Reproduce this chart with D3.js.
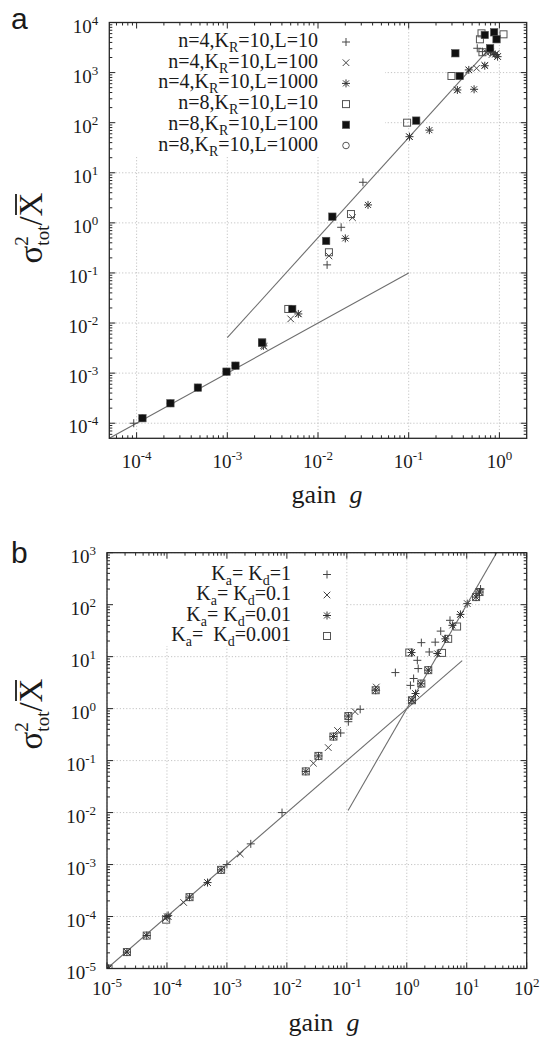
<!DOCTYPE html>
<html>
<head>
<meta charset="utf-8">
<script src="https://cdn.jsdelivr.net/npm/d3@7"></script>
<style>
  body { margin: 0; background: #fff; }
  svg text { font-family: "Liberation Serif", "Times New Roman", serif; fill: #1a1a1a; }
</style>
</head>
<body>
<svg id="fig" width="540" height="1043"></svg>
<script>
// ---- panel a data: [gain g, sigma^2_tot / mean X] ----
const aN4L10 = [[9.3e-5, 1.0e-4], [0.0126, 0.145], [0.018, 0.816], [0.0313, 6.46],
  [0.57, 3060], [0.65, 2620], [0.75, 2700], [0.86, 2500]];
const aN4L100 = [[2.55e-3, 3.4e-3], [5.0e-3, 0.0121], [6.07e-3, 0.0152], [0.0132, 0.219],
  [0.024, 1.27], [0.102, 52.5], [0.344, 450], [0.46, 1130], [0.56, 1220], [0.69, 1400],
  [0.72, 2500], [0.83, 2300], [0.92, 2400], [0.955, 2100]];
const aN4L1000 = [[2.5e-3, 3.5e-3], [6.07e-3, 0.0152], [0.02, 0.49], [0.0356, 2.28],
  [0.102, 52.5], [0.169, 71], [0.344, 450], [0.46, 1130], [0.526, 464], [0.69, 1370],
  [0.8, 2600], [0.9, 2300], [0.955, 2080]];
const aN8L10 = [[2.42e-3, 4.1e-3], [4.7e-3, 0.0191], [0.0132, 0.259], [0.0231, 1.5],
  [0.096, 100], [0.296, 855], [0.61, 4620], [0.635, 6080], [0.65, 2550], [1.11, 5810]];
const aN8L100 = [[1.16e-4, 1.26e-4], [2.36e-4, 2.5e-4], [4.74e-4, 5.14e-4], [9.8e-4, 1.07e-3],
  [1.23e-3, 1.41e-3], [2.42e-3, 4.06e-3], [5.2e-3, 0.0191], [0.0123, 0.435], [0.0144, 1.33],
  [0.121, 110], [0.327, 2430], [0.365, 855], [0.69, 5630], [0.79, 3060], [0.875, 6370], [0.93, 4630]];
const aN8L1000 = [[1.16e-4, 1.26e-4], [2.36e-4, 2.5e-4], [4.74e-4, 5.14e-4], [9.8e-4, 1.07e-3],
  [1.23e-3, 1.41e-3]];
const aFitLinear = [[5e-5, 5e-5], [0.1, 0.1]];
const aFitSquare = [[1e-3, 5.1e-3], [0.74, 2740]];

// ---- panel b data ----
const bKd1 = [[1.05e-4, 1.05e-4], [1e-3, 1e-3], [2.5e-3, 2.5e-3], [8.3e-3, 0.01], [0.079, 0.34],
  [0.106, 0.56], [0.167, 0.97], [0.645, 4.94], [1.15, 2.8], [1.3, 3.8], [1.55, 5.9], [1.5, 8.5],
  [1.75, 18.6], [2.37, 12.3], [2.98, 19], [3.68, 31], [5.26, 50], [10.2, 105], [17, 200]];
const bKd01 = [[1e-5, 1e-5], [2.15e-5, 2.07e-5], [9.5e-5, 9.2e-5], [1.05e-4, 1.0e-4], [1.9e-4, 1.86e-4],
  [4.75e-4, 4.5e-4], [1.67e-3, 1.6e-3], [0.0277, 0.089], [0.049, 0.178], [0.07, 0.38], [0.137, 0.875],
  [0.31, 2.6], [1.2, 12], [1.22, 1.45], [1.4, 1.95], [4.4, 22], [7.84, 65], [10.2, 105], [16.3, 175]];
const bKd001 = [[1.06e-5, 1e-5], [2.15e-5, 2.07e-5], [4.6e-5, 4.3e-5], [1.0e-4, 1.0e-4], [2.38e-4, 2.36e-4],
  [4.75e-4, 4.5e-4], [8e-4, 7.9e-4], [0.0207, 0.062], [0.0336, 0.123], [0.0598, 0.29], [0.106, 0.72],
  [0.303, 2.26], [1.2, 12], [1.22, 1.45], [1.4, 1.95], [1.72, 3.0], [2.28, 5.5], [3.23, 11.5],
  [4.4, 22], [5.77, 40], [7.84, 65], [14.3, 140], [16.3, 175]];
const bKd0001 = [[1.06e-5, 1e-5], [2.15e-5, 2.07e-5], [4.6e-5, 4.3e-5], [9.7e-5, 8.7e-5], [2.38e-4, 2.36e-4],
  [8e-4, 7.9e-4], [0.0207, 0.062], [0.0336, 0.123], [0.0598, 0.29], [0.106, 0.72], [0.303, 2.26],
  [1.1, 12], [1.22, 1.45], [1.75, 3.04], [2.28, 5.5], [3.87, 11.8], [4.9, 22], [6.9, 38],
  [14.3, 140], [16.3, 175]];
const bFitLinear = [[1e-5, 1e-5], [8.4, 8.4]];
const bFitSquare = [[0.105, 0.011], [40, 1600]];

// tick exponents
const aXTicks = [-4, -3, -2, -1, 0];
const aYTicks = [-4, -3, -2, -1, 0, 1, 2, 3, 4];
const bXTicks = [-5, -4, -3, -2, -1, 0, 1, 2];
const bYTicks = [-5, -4, -3, -2, -1, 0, 1, 2, 3];

// legend labels: alternating normal / subscript pieces
const aLegend = [["n=4,K", "R", "=10,L=10"], ["n=4,K", "R", "=10,L=100"], ["n=4,K", "R", "=10,L=1000"],
  ["n=8,K", "R", "=10,L=10"], ["n=8,K", "R", "=10,L=100"], ["n=8,K", "R", "=10,L=1000"]];
const bLegend = [["K", "a", "= K", "d", "=1"], ["K", "a", "= K", "d", "=0.1"],
  ["K", "a", "= K", "d", "=0.01"], ["K", "a", "=  K", "d", "=0.001"]];

const svg = d3.select("#fig");
const ink = "#262626";
const serif = "'Liberation Serif', 'Times New Roman', serif";

// marker shapes
function marker(sel, kind) {
  if (kind === "plus") {
    sel.append("path").attr("d", "M-4,0H4M0,-4V4").attr("stroke", "#444").attr("fill", "none");
  } else if (kind === "cross") {
    sel.append("path").attr("d", "M-3.3,-3.3L3.3,3.3M-3.3,3.3L3.3,-3.3").attr("stroke", "#444").attr("fill", "none");
  } else if (kind === "star") {
    sel.append("path").attr("d", "M-4,0H4M0,-4V4M-3,-3L3,3M-3,3L3,-3").attr("stroke", "#333").attr("fill", "none");
  } else if (kind === "osq") {
    sel.append("rect").attr("x", -3.5).attr("y", -3.5).attr("width", 7).attr("height", 7)
      .attr("fill", "none").attr("stroke", "#555");
  } else if (kind === "fsq") {
    sel.append("rect").attr("x", -3.7).attr("y", -3.7).attr("width", 7.4).attr("height", 7.4)
      .attr("fill", "#111").attr("stroke", "#555").attr("stroke-width", 0.6);
  } else if (kind === "circle") {
    sel.append("circle").attr("r", 3.3).attr("fill", "none").attr("stroke", "#555");
  }
}

function powLabel(sel, e) {
  sel.append("tspan").text("10");
  sel.append("tspan").attr("dy", -8).attr("font-size", 13).text(String(e));
}

function drawPanel(p) {
  const g = svg.append("g");
  const x = d3.scaleLog().domain(p.xDomain).range([p.left, p.right]);
  const y = d3.scaleLog().domain(p.yDomain).range([p.bottom, p.top]);

  // grid
  const grid = g.append("g").attr("stroke", "#b5b5b5").attr("stroke-width", 0.8)
    .attr("stroke-dasharray", "1.2,2");
  p.xTicks.forEach(e => {
    const v = Math.pow(10, e);
    grid.append("line").attr("x1", x(v)).attr("x2", x(v)).attr("y1", p.top).attr("y2", p.bottom);
  });
  p.yTicks.forEach(e => {
    const v = Math.pow(10, e);
    grid.append("line").attr("x1", p.left).attr("x2", p.right).attr("y1", y(v)).attr("y2", y(v));
  });

  // legend box hides the grid
  g.append("rect").attr("x", p.left + 1).attr("y", p.top + 1)
    .attr("width", p.legendBox[0] - p.left - 1).attr("height", p.legendBox[1] - p.top - 1)
    .attr("fill", "#fff");

  // legend
  p.legend.forEach((parts, i) => {
    const by = p.legendY + i * p.legendStep;
    const t = g.append("text").attr("x", p.legendX).attr("y", by).attr("font-family", serif)
      .attr("text-anchor", "end").attr("font-size", 20).style("white-space", "pre");
    parts.forEach((s, j) => {
      const sub = j % 2 === 1;
      t.append("tspan").attr("dy", sub ? 5 : (j > 0 ? -5 : 0))
        .attr("font-size", sub ? 14 : 20).text(s);
    });
    const m = g.append("g").attr("transform", `translate(${p.symX},${by - 5})`);
    marker(m, p.legendSyms[i]);
  });

  // fits and points, clipped to frame
  const clipId = "clip" + p.name;
  svg.append("clipPath").attr("id", clipId).append("rect")
    .attr("x", p.left).attr("y", p.top).attr("width", p.right - p.left).attr("height", p.bottom - p.top);
  const plot = g.append("g").attr("clip-path", `url(#${clipId})`);
  const line = d3.line().x(d => x(d[0])).y(d => y(d[1]));
  p.fits.forEach(f => {
    plot.append("path").attr("d", line(f)).attr("fill", "none")
      .attr("stroke", "#6e6e6e").attr("stroke-width", 1.1);
  });
  p.series.forEach(s => {
    plot.selectAll(null).data(s.pts).enter().append("g")
      .attr("transform", d => `translate(${x(d[0])},${y(d[1])})`)
      .each(function () { marker(d3.select(this), s.sym); });
  });

  // frame
  g.append("rect").attr("x", p.left).attr("y", p.top)
    .attr("width", p.right - p.left).attr("height", p.bottom - p.top)
    .attr("fill", "none").attr("stroke", ink).attr("stroke-width", 1.3);

  // ticks on all four sides, pointing in
  const tk = g.append("g").attr("stroke", ink).attr("stroke-width", 1);
  function minorVals(dom) {
    const out = [];
    const lo = Math.floor(Math.log10(dom[0])), hi = Math.ceil(Math.log10(dom[1]));
    for (let k = lo; k <= hi; k++) for (let m = 2; m <= 9; m++) {
      const v = m * Math.pow(10, k);
      if (v > dom[0] && v < dom[1]) out.push(v);
    }
    return out;
  }
  const xs = p.xTicks.map(e => [Math.pow(10, e), 6]).concat(minorVals(p.xDomain).map(v => [v, 3]));
  const ys = p.yTicks.map(e => [Math.pow(10, e), 6]).concat(minorVals(p.yDomain).map(v => [v, 3]));
  xs.forEach(([v, l]) => {
    tk.append("line").attr("x1", x(v)).attr("x2", x(v)).attr("y1", p.bottom).attr("y2", p.bottom - l);
    tk.append("line").attr("x1", x(v)).attr("x2", x(v)).attr("y1", p.top).attr("y2", p.top + l);
  });
  ys.forEach(([v, l]) => {
    tk.append("line").attr("y1", y(v)).attr("y2", y(v)).attr("x1", p.left).attr("x2", p.left + l);
    tk.append("line").attr("y1", y(v)).attr("y2", y(v)).attr("x1", p.right).attr("x2", p.right - l);
  });

  // tick labels
  p.xTicks.forEach(e => {
    const t = g.append("text").attr("x", x(Math.pow(10, e))).attr("y", p.xLabelY)
      .attr("font-family", serif).attr("text-anchor", "middle").attr("font-size", 19);
    powLabel(t, e);
  });
  p.yTicks.forEach(e => {
    const t = g.append("text").attr("x", p.left - 11).attr("y", y(Math.pow(10, e)) + 10)
      .attr("font-family", serif).attr("text-anchor", "end").attr("font-size", 19);
    powLabel(t, e);
  });

  // x title
  const xt = g.append("text").attr("x", p.xTitle[0]).attr("y", p.xTitle[1]).attr("font-family", serif)
    .attr("text-anchor", "middle").attr("font-size", 26).style("white-space", "pre");
  xt.append("tspan").text("gain  ");
  xt.append("tspan").attr("font-style", "italic").text("g");

  // y title: sigma^2_tot / X-bar
  const yg = g.append("g").attr("transform", `translate(${p.yTitle[0]},${p.yTitle[1]}) rotate(-90)`);
  const yt = yg.append("text").attr("text-anchor", "middle").attr("font-family", serif).attr("font-size", 33);
  yt.append("tspan").text("σ");
  yt.append("tspan").attr("dy", -14).attr("font-size", 19).text("2");
  yt.append("tspan").attr("dx", -9.5).attr("dy", 21).attr("font-size", 19).text("tot");
  yt.append("tspan").attr("dy", -7).text("/X");
  const n = yt.node().getNumberOfChars();
  const s0 = yt.node().getStartPositionOfChar(n - 1), s1 = yt.node().getEndPositionOfChar(n - 1);
  yg.append("line").attr("x1", s0.x + 1.5).attr("x2", s1.x - 1.5).attr("y1", s0.y - 26).attr("y2", s0.y - 26)
    .attr("stroke", "#1a1a1a").attr("stroke-width", 1.8);

  // panel letter
  svg.append("text").attr("x", p.letter[1]).attr("y", p.letter[2])
    .style("font-family", "'Liberation Sans', Arial, sans-serif").attr("font-size", 30).text(p.letter[0]);
}

drawPanel({
  name: "a",
  left: 109.3, right: 526.7, top: 22.5, bottom: 438.3,
  xDomain: [5e-5, 2], yDomain: [5e-5, 1e4],
  xTicks: aXTicks, yTicks: aYTicks,
  legendBox: [385, 157], legend: aLegend,
  legendX: 318, legendY: 47, legendStep: 20.7, symX: 346,
  legendSyms: ["plus", "cross", "star", "osq", "fsq", "circle"],
  fits: [aFitLinear, aFitSquare],
  series: [
    { pts: aN8L1000, sym: "circle" }, { pts: aN8L10, sym: "osq" },
    { pts: aN4L10, sym: "plus" }, { pts: aN4L100, sym: "cross" },
    { pts: aN4L1000, sym: "star" }, { pts: aN8L100, sym: "fsq" }
  ],
  xLabelY: 468, xTitle: [327, 503], yTitle: [42, 228], letter: ["a", 11, 29]
});

drawPanel({
  name: "b",
  left: 107, right: 526.7, top: 552.7, bottom: 968.5,
  xDomain: [1e-5, 1e2], yDomain: [1e-5, 1e3],
  xTicks: bXTicks, yTicks: bYTicks,
  legendBox: [346, 646], legend: bLegend,
  legendX: 291, legendY: 579.5, legendStep: 20.5, symX: 327,
  legendSyms: ["plus", "cross", "star", "osq"],
  fits: [bFitLinear, bFitSquare],
  series: [
    { pts: bKd0001, sym: "osq" }, { pts: bKd1, sym: "plus" },
    { pts: bKd01, sym: "cross" }, { pts: bKd001, sym: "star" }
  ],
  xLabelY: 995, xTitle: [324, 1031], yTitle: [42, 714], letter: ["b", 11, 563]
});
</script>
</body>
</html>
